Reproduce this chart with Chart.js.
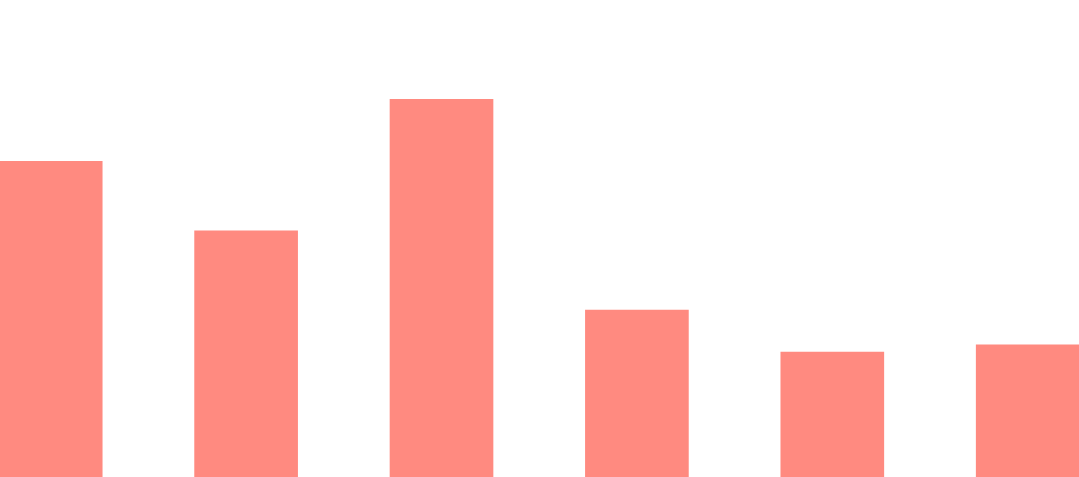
<!DOCTYPE html>
<html>
<head>
<meta charset="utf-8">
<script src="https://cdn.jsdelivr.net/npm/chart.js@4"></script>
<style>
  html, body { margin: 0; padding: 0; background: #ffffff; overflow: hidden; }
  canvas { display: block; }
</style>
</head>
<body>
<canvas id="barChart" width="1079" height="477"></canvas>
<script>
// ==================== DATA ====================
const categories = [0, 1, 2, 3, 4, 5];
const values = [66.2, 51.6, 79.2, 35.0, 26.2, 27.7];
const yMin = 0;
const yMax = 100;
const xMin = -0.2595;
const xMax = 5.2625;

// ==================== CHART ====================
const points = categories.map((c, i) => ({ x: c, y: values[i] }));

new Chart(document.getElementById("barChart"), {
  type: "bar",
  data: {
    datasets: [{
      data: points,
      backgroundColor: "#ff8a80",
      borderWidth: 0,
      barThickness: 103
    }]
  },
  options: {
    responsive: false,
    animation: false,
    layout: { padding: 0 },
    plugins: {
      legend: { display: false },
      tooltip: { enabled: false }
    },
    scales: {
      x: { type: "linear", min: xMin, max: xMax, offset: false, grid: { offset: false }, display: false },
      y: { min: yMin, max: yMax, display: false }
    }
  }
});
</script>
</body>
</html>
